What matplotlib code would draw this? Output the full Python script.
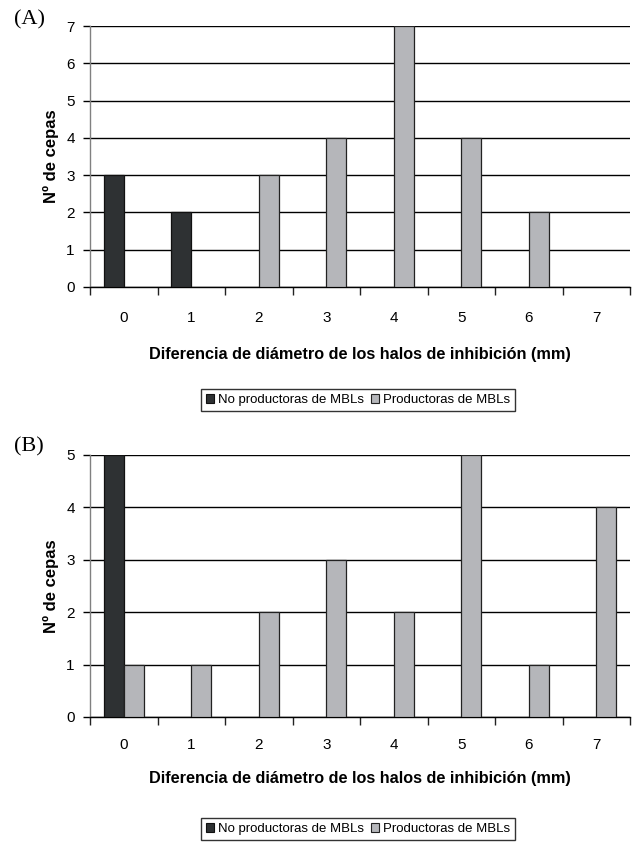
import matplotlib
matplotlib.use("Agg")
import matplotlib.pyplot as plt
import numpy as np
from matplotlib.patches import Patch

plt.rcParams['font.family'] = ['Liberation Sans', 'DejaVu Sans']

categories = ["0", "1", "2", "3", "4", "5", "6", "7"]
a_no_prod = [3, 2, 0, 0, 0, 0, 0, 0]
a_prod = [0, 0, 3, 4, 7, 4, 2, 0]
b_no_prod = [5, 0, 0, 0, 0, 0, 0, 0]
b_prod = [1, 1, 2, 3, 2, 5, 1, 4]
series_names = ["No productoras de MBLs", "Productoras de MBLs"]
panel_labels = ["(A)", "(B)"]
xlabel = "Diferencia de diámetro de los halos de inhibición (mm)"
ylabel = "Nº de cepas"

dark = "#2e3133"
light = "#b5b6ba"

fig = plt.figure(figsize=(6.36, 8.44), dpi=100)
W, H = 636, 844

def fx(px):
    return px / W

def fy(py):
    return 1 - py / H

panels = [
    dict(no=a_no_prod, prod=a_prod, top=26, bottom=287, ymax=7, lab_y=20, leg_y=400, pad=17, lpad=16),
    dict(no=b_no_prod, prod=b_prod, top=455, bottom=717, ymax=5, lab_y=447, leg_y=829, pad=15, lpad=14),
]

bw = 0.295
x = np.arange(len(categories))
for i, p in enumerate(panels):
    ax = fig.add_axes([fx(90), fy(p['bottom']), fx(630) - fx(90), fy(p['top']) - fy(p['bottom'])])
    ax.set_xlim(-0.5, len(categories) - 0.5)
    ax.set_ylim(0, p['ymax'])
    ax.set_yticks(range(p['ymax'] + 1))
    ax.yaxis.grid(True, color='black', linewidth=1.0)
    ax.set_axisbelow(True)
    no = np.array(p['no'])
    pr = np.array(p['prod'])
    mask_no = no > 0
    mask_pr = pr > 0
    ax.bar(x[mask_no] - bw / 2, no[mask_no], width=bw, color=dark, edgecolor='#111111', linewidth=0.9, zorder=3)
    ax.bar(x[mask_pr] + bw / 2, pr[mask_pr], width=bw, color=light, edgecolor='#222222', linewidth=0.9, zorder=3)
    for s in ['top', 'right']:
        ax.spines[s].set_visible(False)
    ax.spines['left'].set_color('#808080')
    ax.spines['left'].set_linewidth(1.0)
    ax.spines['bottom'].set_color('black')
    ax.spines['bottom'].set_linewidth(1.0)
    ax.set_xticks(x)
    ax.set_xticklabels(categories, fontsize=11)
    ax.set_xticks(np.arange(-0.5, len(categories)), minor=True)
    ax.tick_params(axis='x', which='major', length=0, pad=p['pad'])
    ax.tick_params(axis='x', which='minor', length=6, width=1, color='#222222', direction='out')
    ax.tick_params(axis='y', length=5, width=1, color='black', labelsize=11, pad=6)
    ax.set_xlabel(xlabel, fontsize=11.7, fontweight='bold', labelpad=p['lpad'])
    ax.set_ylabel(ylabel, fontsize=12, fontweight='bold', labelpad=5)
    fig.text(fx(14), fy(p['lab_y']), panel_labels[i], fontsize=16, family=['Liberation Serif', 'DejaVu Serif'],
             va='center', ha='left')
    handles = [Patch(facecolor=dark, edgecolor='#111111', linewidth=0.8),
               Patch(facecolor=light, edgecolor='#222222', linewidth=0.8)]
    leg = fig.legend(handles, series_names, loc='center', bbox_to_anchor=(fx(358), fy(p['leg_y'])),
                     ncol=2, fontsize=9.5, frameon=True, fancybox=False, edgecolor='black',
                     handlelength=0.65, handleheight=0.65, handletextpad=0.3, columnspacing=0.5,
                     borderpad=0.35, borderaxespad=0)
    leg.get_frame().set_linewidth(1.0)

fig.savefig("out.png", dpi=100)
